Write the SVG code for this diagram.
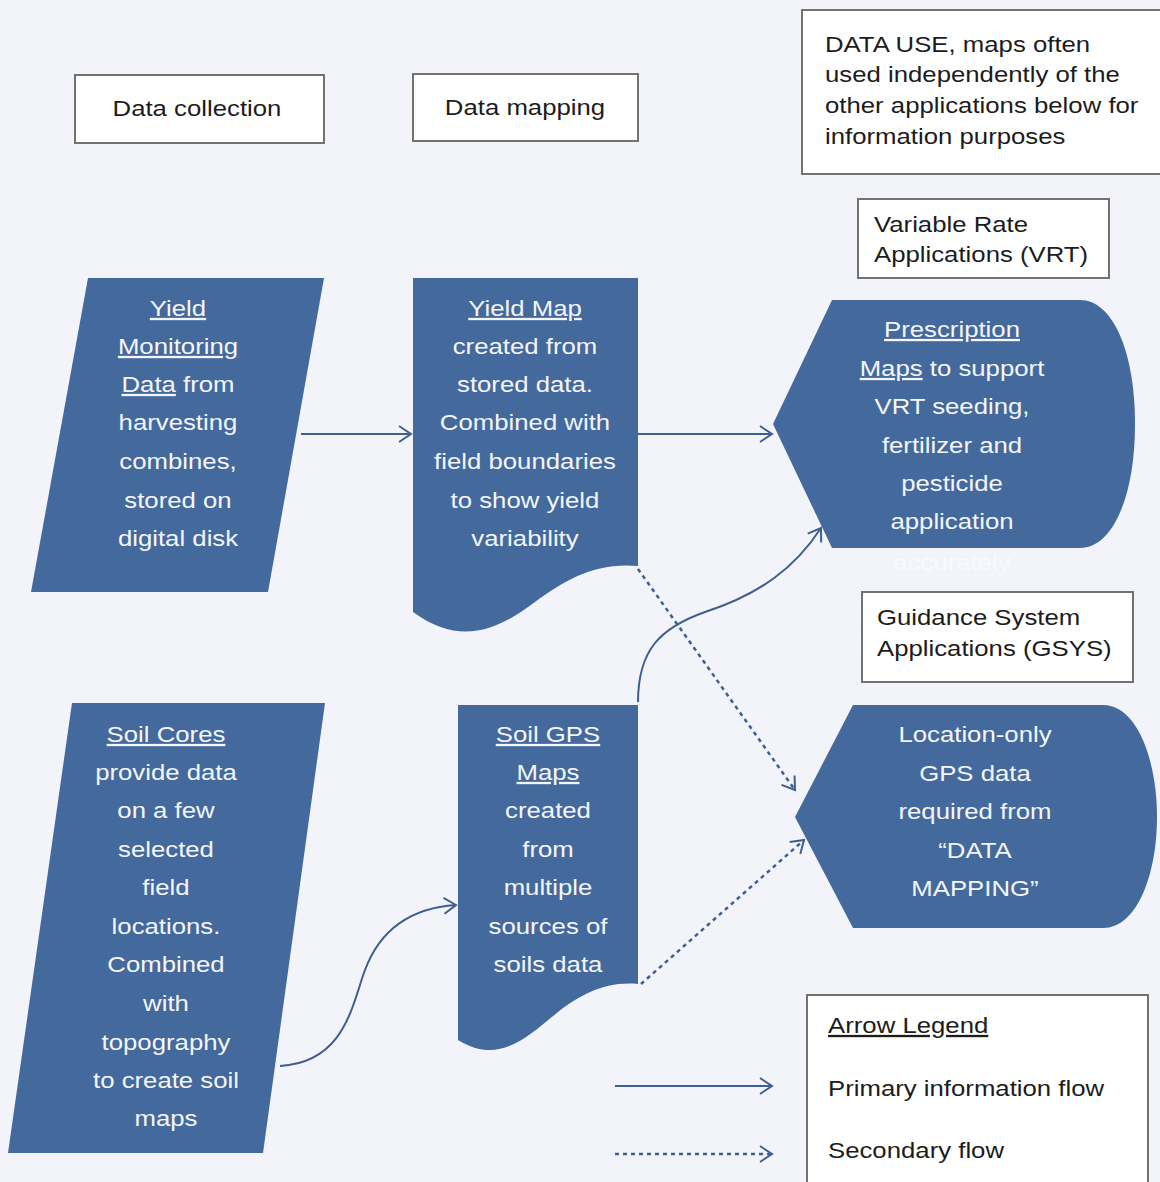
<svg xmlns="http://www.w3.org/2000/svg" width="1160" height="1182" viewBox="0 0 1160 1182">
  <style>
    .bg { fill: #f2f4fa; }
    .box { fill: #ffffff; stroke: #727272; stroke-width: 2; }
    .shape { fill: #44699d; }
    .t { font-family: "Liberation Sans", Arial, sans-serif; font-size: 23px; }
    .wt { fill: #f4f6fb; text-anchor: middle; }
    .bt { fill: #1c1c1c; }
    .u { text-decoration: underline; }
    .conn { fill: none; stroke: #3e5f8f; stroke-width: 2; }
    .dot { stroke-dasharray: 4 4; stroke-width: 2.5; }
  </style>
  <defs>
    <marker id="arr" markerUnits="userSpaceOnUse" markerWidth="18" markerHeight="22" refX="14" refY="10" orient="auto">
      <path d="M2,2 L14,10 L2,18" fill="none" stroke="#3e5f8f" stroke-width="2"/>
    </marker>
  </defs>
  <rect class="bg" x="0" y="0" width="1160" height="1182"/>

  <g id="data-collection">
    <rect class="box" x="75" y="75" width="249" height="68"/>
    <text class="t bt" x="197" y="116" text-anchor="middle" transform="matrix(1.12,0,0,1,-23.64,0)">Data collection</text>
  </g>
  <g id="data-mapping">
    <rect class="box" x="413" y="74" width="225" height="67"/>
    <text class="t bt" x="525" y="115" text-anchor="middle" transform="matrix(1.12,0,0,1,-63,0)">Data mapping</text>
  </g>
  <g id="data-use">
    <rect class="box" x="802" y="10" width="370" height="164"/>
    <g class="t bt" transform="matrix(1.12,0,0,1,-99,0)">
      <text x="825" y="52">DATA USE, maps often</text>
      <text x="825" y="82">used independently of the</text>
      <text x="825" y="113">other applications below for</text>
      <text x="825" y="144">information purposes</text>
    </g>
  </g>
  <g id="vrt-label">
    <rect class="box" x="858" y="199" width="251" height="79"/>
    <g class="t bt" transform="matrix(1.12,0,0,1,-104.88,0)">
      <text x="874" y="232">Variable Rate</text>
      <text x="874" y="262">Applications (VRT)</text>
    </g>
  </g>
  <g id="gsys-label">
    <rect class="box" x="862" y="592" width="271" height="90"/>
    <g class="t bt" transform="matrix(1.12,0,0,1,-105.24,0)">
      <text x="877" y="625">Guidance System</text>
      <text x="877" y="656">Applications (GSYS)</text>
    </g>
  </g>

  <g id="yield-monitoring">
    <polygon class="shape" points="88,278 324,278 268,592 31,592"/>
    <g class="t wt" transform="matrix(1.12,0,0,1,-21.36,0)">
      <text x="178" y="316"><tspan class="u">Yield</tspan></text>
      <text x="178" y="354"><tspan class="u">Monitoring </tspan></text>
      <text x="178" y="392"><tspan class="u">Data</tspan> from</text>
      <text x="178" y="430">harvesting</text>
      <text x="178" y="469">combines,</text>
      <text x="178" y="508">stored on</text>
      <text x="178" y="546">digital disk</text>
    </g>
  </g>

  <g id="yield-map">
    <path class="shape" d="M413,278 H638 V566 C595,562 565,580 535,602 C500,628 462,648 413,612 Z"/>
    <g class="t wt" transform="matrix(1.12,0,0,1,-63,0)">
      <text x="525" y="316"><tspan class="u">Yield Map</tspan></text>
      <text x="525" y="354">created from</text>
      <text x="525" y="392">stored data.</text>
      <text x="525" y="430">Combined with</text>
      <text x="525" y="469">field boundaries</text>
      <text x="525" y="508">to show yield</text>
      <text x="525" y="546">variability</text>
    </g>
  </g>

  <g id="prescription-maps">
    <path class="shape" d="M773,424 L832,300 L1080,300 C1112,300 1135,350 1135,424 C1135,498 1112,548 1080,548 L832,548 Z"/>
    <g class="t wt" transform="matrix(1.12,0,0,1,-114.24,0)">
      <text x="952" y="337"><tspan class="u">Prescription</tspan></text>
      <text x="952" y="376"><tspan class="u">Maps</tspan> to support</text>
      <text x="952" y="414">VRT seeding,</text>
      <text x="952" y="453">fertilizer and</text>
      <text x="952" y="491">pesticide</text>
      <text x="952" y="529">application</text>
      <text x="952" y="570" fill="#ffffff" opacity="0.6">accurately</text>
    </g>
  </g>

  <g id="soil-cores">
    <polygon class="shape" points="72,703 325,703 263,1153 8,1153"/>
    <g class="t wt" transform="matrix(1.12,0,0,1,-19.92,0)">
      <text x="166" y="742"><tspan class="u">Soil Cores</tspan></text>
      <text x="166" y="780">provide data</text>
      <text x="166" y="818">on a few</text>
      <text x="166" y="857">selected</text>
      <text x="166" y="895">field</text>
      <text x="166" y="934">locations.</text>
      <text x="166" y="972">Combined</text>
      <text x="166" y="1011">with</text>
      <text x="166" y="1050">topography</text>
      <text x="166" y="1088">to create soil</text>
      <text x="166" y="1126">maps</text>
    </g>
  </g>

  <g id="soil-gps-maps">
    <path class="shape" d="M458,705 H638 V984 C605,981 580,995 558,1012 C528,1036 500,1066 458,1040 Z"/>
    <g class="t wt" transform="matrix(1.12,0,0,1,-65.76,0)">
      <text x="548" y="742"><tspan class="u">Soil GPS</tspan></text>
      <text x="548" y="780"><tspan class="u">Maps</tspan></text>
      <text x="548" y="818">created</text>
      <text x="548" y="857">from</text>
      <text x="548" y="895">multiple</text>
      <text x="548" y="934">sources of</text>
      <text x="548" y="972">soils data</text>
    </g>
  </g>

  <g id="location-gps">
    <path class="shape" d="M795,817 L853,705 L1103,705 C1137,705 1157,760 1157,817 C1157,874 1137,928 1103,928 L853,928 Z"/>
    <g class="t wt" transform="matrix(1.12,0,0,1,-117,0)">
      <text x="975" y="742">Location-only</text>
      <text x="975" y="781">GPS data</text>
      <text x="975" y="819">required from</text>
      <text x="975" y="858">“DATA</text>
      <text x="975" y="896">MAPPING”</text>
    </g>
  </g>

  <g id="legend">
    <rect class="box" x="807" y="995" width="341" height="195"/>
    <g class="t bt" transform="matrix(1.12,0,0,1,-99.36,0)">
      <text x="828" y="1033"><tspan class="u">Arrow Legend</tspan></text>
      <text x="828" y="1096">Primary information flow</text>
      <text x="828" y="1158">Secondary flow</text>
    </g>
  </g>

  <g id="connectors">
    <path class="conn" d="M301,434 L411,434" marker-end="url(#arr)"/>
    <path class="conn" d="M638,434 L772,434" marker-end="url(#arr)"/>
    <path class="conn" d="M280,1066 C345,1062 352,1005 365,970 C380,930 410,908 456,905" marker-end="url(#arr)"/>
    <path class="conn" d="M638,702 C638,650 660,628 705,612 C760,594 795,568 821,528" marker-end="url(#arr)"/>
    <path class="conn dot" d="M638,569 L795,790" marker-end="url(#arr)"/>
    <path class="conn dot" d="M641,984 L804,840" marker-end="url(#arr)"/>
    <path class="conn" d="M615,1086 L772,1086" marker-end="url(#arr)"/>
    <path class="conn dot" d="M615,1154 L772,1154" marker-end="url(#arr)"/>
  </g>
</svg>
